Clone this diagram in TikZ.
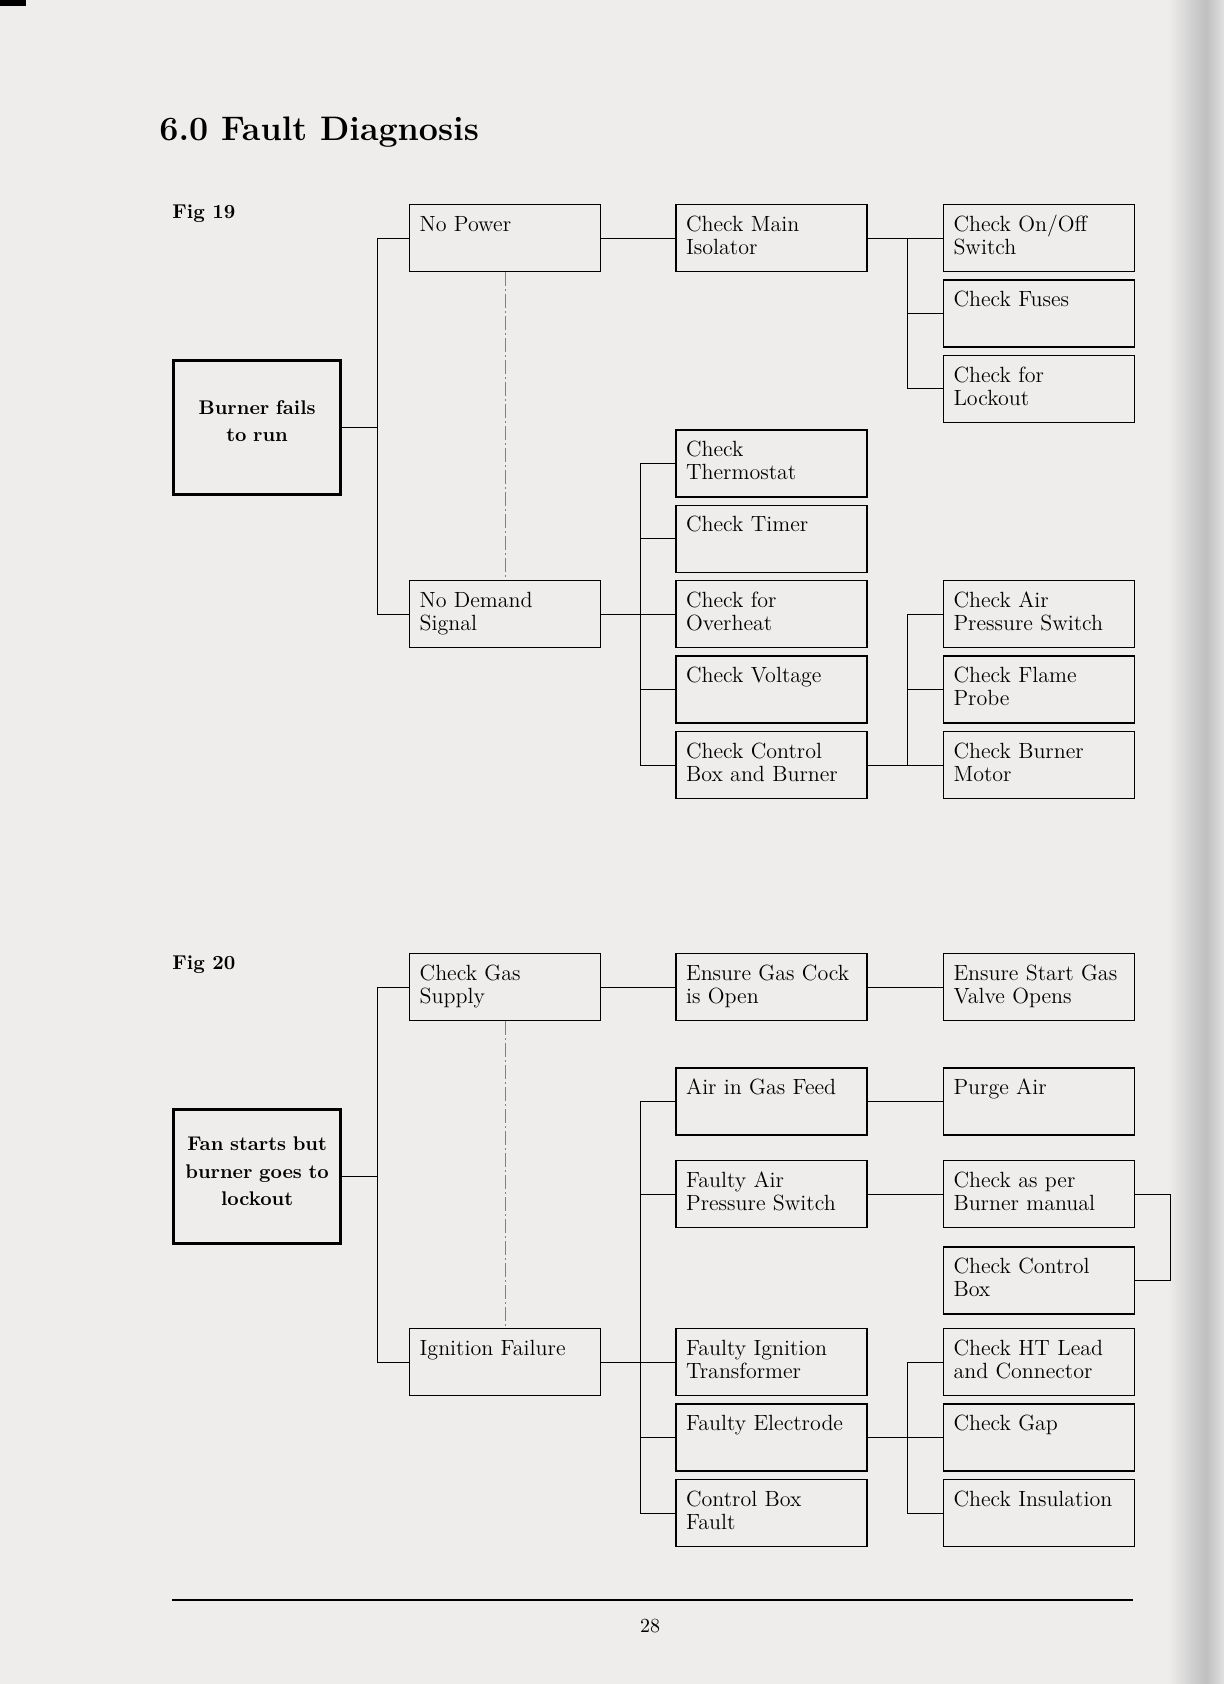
\documentclass[tikz,border=0pt]{standalone}
\usepackage{xcolor}
\usepackage{tikz}
\usetikzlibrary{positioning,calc}
\definecolor{paper}{RGB}{238,237,236}

\begin{document}
\begin{tikzpicture}[x=0.5pt, y=-0.5pt]
    \tikzstyle{check} = [draw, rectangle, line width=0.7pt, minimum width=95.5pt, minimum height=33.5pt, text width=85.5pt, inner xsep=5pt, inner ysep=5.5pt, text height=7.8pt, text depth=14.7pt, align=left, font=\fontsize{11}{11.5}\selectfont]
    \tikzstyle{fault} = [draw, rectangle, line width=1.6pt, minimum width=83.5pt, minimum height=67pt, text width=77pt, inner xsep=3.25pt, inner ysep=0pt, align=center, font=\fontsize{9.9}{13.7}\selectfont\bfseries]
    \tikzstyle{caption} = [anchor=base west, inner sep=0pt, font=\fontsize{10}{12}\selectfont\bfseries]
    \tikzstyle{link} = [line width=0.5pt]
    \tikzstyle{guide} = [gray, line width=0.4pt, dash pattern=on 7pt off 1.5pt on 1pt off 1.5pt]

    % page
    \useasboundingbox (0,0) rectangle (1224,1684);
    \fill[paper] (0,0) rectangle (1224,1684);
    \shade[left color=paper, right color=black!25] (1168,0) rectangle (1206,1684);
    \shade[left color=black!25, right color=black!12] (1206,0) rectangle (1224,1684);
    \fill[black] (0,0) rectangle (26,6);

    \node[caption, font=\fontsize{17}{20}\selectfont\bfseries] (title) at (159,141) {6.0 Fault Diagnosis};

    % Fig 19
    \node[caption] (fig19) at (172,219) {Fig 19};
    \node[fault, anchor=north west, text height=27pt, text depth=40pt] (burner) at (172,359) {Burner fails\\to run};
    \node[check, anchor=north west] (nopower) at (409,204) {No Power};
    \node[check, right=37pt of nopower] (isolator) {Check Main\\Isolator};
    \node[check, right=37.5pt of isolator] (onoff) {Check On/Off\\Switch};
    \node[check, below=3.5pt of onoff] (fuses) {Check Fuses};
    \node[check, below=3.5pt of fuses] (lockout) {Check for\\Lockout};
    \node[check, anchor=north west] (nodemand) at (409,580) {No Demand\\Signal};
    \node[check, right=37pt of nodemand] (overheat) {Check for\\Overheat};
    \node[check, above=3.5pt of overheat] (timer) {Check Timer};
    \node[check, above=3.5pt of timer] (thermo) {Check\\Thermostat};
    \node[check, below=3.5pt of overheat] (voltage) {Check Voltage};
    \node[check, below=3.5pt of voltage] (ctrlbox) {Check Control\\Box and Burner};
    \node[check, right=37.5pt of overheat] (airsw) {Check Air\\Pressure Switch};
    \node[check, below=3.5pt of airsw] (flame) {Check Flame\\Probe};
    \node[check, below=3.5pt of flame] (motor) {Check Burner\\Motor};

    \draw[link] (burner.east) -- ++(17.5pt,0) coordinate (j1);
    \draw[link] (nopower.west) -| (j1) |- (nodemand.west);
    \draw[link] (nopower) -- (isolator);
    \draw[link] (isolator) -- (onoff);
    \draw[link] (onoff.west) ++(-17.5pt,0) coordinate (j2) |- (lockout.west);
    \draw[link] (fuses.west) -- (fuses.west -| j2);
    \draw[link] (nodemand) -- (overheat);
    \draw[link] (thermo.west) -- ++(-17.5pt,0) coordinate (j3) |- (ctrlbox.west);
    \draw[link] (timer.west) -- (timer.west -| j3);
    \draw[link] (voltage.west) -- (voltage.west -| j3);
    \draw[link] (ctrlbox) -- (motor);
    \draw[link] (airsw.west) -- ++(-17.5pt,0) coordinate (j4) |- (motor.west);
    \draw[link] (flame.west) -- (flame.west -| j4);
    \draw[guide] (nopower) -- (nodemand);

    % Fig 20
    \node[caption] (fig20) at (172,969) {Fig 20};
    \node[fault, anchor=north west, text height=20.5pt, text depth=46.5pt] (fan) at (172,1108) {Fan starts but\\burner goes to\\lockout};
    \node[check, anchor=north west] (gassupply) at (409,953) {Check Gas\\Supply};
    \node[check, right=37pt of gassupply] (gascock) {Ensure Gas Cock\\is Open};
    \node[check, right=37.5pt of gascock] (startgas) {Ensure Start Gas\\Valve Opens};
    \node[check, below=23pt of gascock] (airfeed) {Air in Gas Feed};
    \node[check, right=37.5pt of airfeed] (purge) {Purge Air};
    \node[check, below=12pt of airfeed] (apswitch) {Faulty Air\\Pressure Switch};
    \node[check, right=37.5pt of apswitch] (asper) {Check as per\\Burner manual};
    \node[check, below=9pt of asper] (cbcheck) {Check Control\\Box};
    \node[check, anchor=north west] (ignfail) at (409,1328) {Ignition Failure};
    \node[check, right=37pt of ignfail] (transformer) {Faulty Ignition\\Transformer};
    \node[check, below=3.5pt of transformer] (electrode) {Faulty Electrode};
    \node[check, below=3.5pt of electrode] (cbfault) {Control Box\\Fault};
    \node[check, right=37.5pt of transformer] (htlead) {Check HT Lead\\and Connector};
    \node[check, below=3.5pt of htlead] (gap) {Check Gap};
    \node[check, below=3.5pt of gap] (insulation) {Check Insulation};

    \draw[link] (fan.east) -- ++(17.5pt,0) coordinate (j5);
    \draw[link] (gassupply.west) -| (j5) |- (ignfail.west);
    \draw[link] (gassupply) -- (gascock);
    \draw[link] (gascock) -- (startgas);
    \draw[link] (airfeed.west) -- ++(-17.5pt,0) coordinate (j6) |- (cbfault.west);
    \draw[link] (apswitch.west) -- (apswitch.west -| j6);
    \draw[link] (electrode.west) -- (electrode.west -| j6);
    \draw[link] (ignfail) -- (transformer);
    \draw[link] (airfeed) -- (purge);
    \draw[link] (apswitch) -- (asper);
    \draw[link] (asper.east) -- ++(17.5pt,0) |- (cbcheck.east);
    \draw[link] (electrode) -- (gap);
    \draw[link] (htlead.west) -- ++(-17.5pt,0) coordinate (j7) |- (insulation.west);
    \draw[guide] (gassupply) -- (ignfail);

    % footer
    \draw[line width=0.8pt] (172,1600) -- (1133,1600);
    \node[anchor=base, inner sep=0pt, font=\fontsize{10}{12}\selectfont] (pageno) at (650,1632) {28};
\end{tikzpicture}
\end{document}
